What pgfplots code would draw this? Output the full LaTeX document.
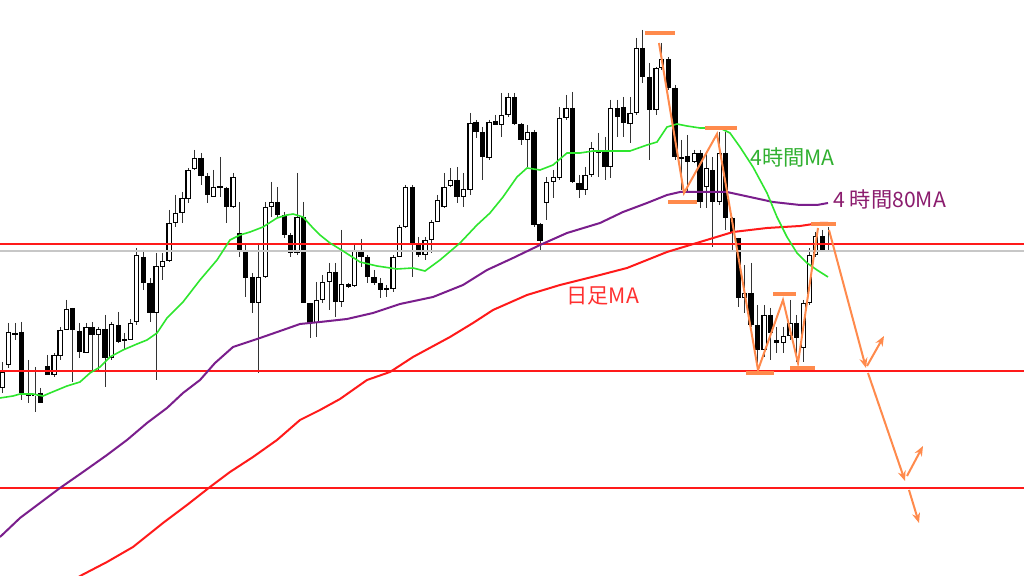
\documentclass[border=0pt]{standalone}
\usepackage{fontspec}
\setmainfont{Noto Sans CJK JP}
\usepackage{pgfplots}
\usepackage{pgfplotstable}
\pgfplotsset{compat=1.18}
\usetikzlibrary{arrows.meta}

\definecolor{maGreen}{HTML}{2EE62E}
\definecolor{maPurple}{HTML}{7A1E8C}
\definecolor{maRed}{HTML}{FF1A1A}
\definecolor{txtGreen}{HTML}{30B030}
\definecolor{txtPurple}{HTML}{8B1C6E}
\definecolor{txtRed}{HTML}{FF3030}
\definecolor{anno}{HTML}{FF8A4C}
\definecolor{wick}{HTML}{333333}

% candles in chart pixels: x, open, high, low, close (y grows downward)
\pgfplotstableread{
x o h l c
2.7 388 362 393 372
8.3 365 323 368 332
15 334 323 340 333
21.7 332 322 400 393
28.3 393 360 403 396
35 396 367 412 394
40.7 393 388 403 403
47.3 366 355 375 375
54 375 353 377 355
60 356 327 360 330
66.7 330 300 330 309
72.7 308 308 382 330
79.3 331 323 358 352
86 353 323 353 327
92 327 322 370 335
98.3 335 327 370 329
105 329 315 387 358
111.7 358 322 360 324
118.3 325 312 343 342
124.3 339 333 350 340
130.7 340 319 340 323
136.7 322 248 325 255
143.3 257 250 290 283
150 283 278 322 313
156 313 253 380 266
162.7 267 253 280 261
169 261 210 262 223
175.7 223 195 227 213
182 213 192 223 198
188 199 168 203 170
194.3 169 150 170 158
201 158 153 185 176
207.3 176 173 203 195
213.7 197 170 197 187
220 187 157 197 186
226.7 188 187 223 207
233 207 173 208 177
239.3 233 202 257 251
245.7 250 243 297 278
252.3 277 273 313 303
258.7 303 243 373 277
265.3 277 202 278 207
271.3 207 182 217 202
277.7 202 187 217 215
284.3 215 212 238 235
290.7 235 233 257 253
297 253 173 255 217
303.3 217 202 303 303
310 303 303 338 323
316.7 323 282 337 300
322.7 300 275 303 282
329.3 282 263 310 272
335.3 272 263 317 302
341.7 302 230 307 284
348.3 284 283 288 287
354.7 286 245 287 250
361 250 239 267 257
367.3 257 255 283 277
374 277 270 285 283
380.3 283 278 298 290
386.7 288 285 297 289
393 289 255 292 257
399.7 257 225 257 227
405.7 227 185 228 187
412.7 187 185 277 243
418.7 243 237 257 255
425 255 237 260 240
431.3 240 220 253 222
437.7 222 195 222 200
444 207 173 208 187
450.7 186 168 187 180
457 180 167 203 197
463.3 197 173 207 189
470 190 113 195 123
476 122 120 138 132
482.7 132 127 180 157
489 158 120 160 122
495.7 121 115 125 125
501.7 125 93 137 115
508 115 93 117 97
514.7 97 93 125 124
521 124 123 145 140
527.3 140 125 167 132
534 132 130 227 225
540 224 223 250 241
546.7 203 177 220 182
553.3 182 170 198 177
559.3 178 107 180 118
566 118 95 120 108
572.3 108 92 183 182
579 183 175 198 190
585 190 167 195 175
591.7 175 142 177 148
598.3 150 133 177 153
605 152 137 180 167
610.7 167 100 178 108
617.3 108 100 137 117
623.3 107 97 137 123
630 124 97 143 113
636.7 113 38 115 48
642.7 48 30 83 77
649.3 77 63 160 110
656 110 67 115 68
661.7 68 43 70 59
668.3 59 57 90 88
675 88 85 160 157
681.7 157 140 190 158
687.3 156 135 193 162
694.3 162 150 163 153
700 153 150 208 202
706.7 187 153 208 168
712.7 170 157 247 202
719.3 202 132 205 153
725.7 153 132 230 218
732.3 218 217 250 233
738.3 238 238 307 298
744.3 298 265 313 293
751 293 263 327 325
757.3 325 305 367 350
764 350 305 357 315
770.3 315 308 360 333
776.7 340 327 353 343
783.3 343 327 353 336
790 336 300 340 323
796.7 323 315 362 338
803.3 348 300 362 303
809.3 303 248 305 255
815.7 255 232 257 236
822.3 236 230 252 250
828.3 250 227 252 251
}\candles

\begin{document}
\begin{tikzpicture}[
    lab/.style={anchor=west, inner sep=0pt, font=\fontsize{10.6pt}{12pt}\selectfont},
]
\begin{axis}[
    width=512pt, height=288pt, scale only axis,
    xmin=0, xmax=1024, ymin=0, ymax=576,
    y dir=reverse,
    hide axis, clip=true,
    hline/.style={line width=0.55pt, forget plot},
    bar/.style={anno, line width=1.6pt, forget plot},
    arr/.style={anno, line width=1pt, forget plot, -{Stealth[length=5pt, width=4pt]}},
    candle/.style={draw=none, mark=none, forget plot,
        /pgfplots/error bars/y dir=plus,
        /pgfplots/error bars/y explicit,
        /pgfplots/error bars/error mark=none},
]
% white page
\addplot[fill=white, draw=none, forget plot] coordinates {(0,0) (1024,0) (1024,576) (0,576) (0,0)};

% wicks
\addplot[candle, /pgfplots/error bars/error bar style={draw=wick, line width=0.5pt}]
    table[x=x, y=h, y error plus expr={\thisrow{l}-\thisrow{h}}] {\candles};
% bodies (outline)
\addplot[candle, /pgfplots/error bars/error bar style={draw=black, line width=2.6pt}]
    table[x=x, y expr={min(\thisrow{o},\thisrow{c})},
          y error plus expr={max(abs(\thisrow{o}-\thisrow{c}),1.6)}] {\candles};
% hollow inside of rising candles
\addplot[candle, /pgfplots/error bars/error bar style={draw=white, line width=1.5pt}]
    table[x=x, y expr={\thisrow{c}+0.9},
          y error plus expr={max(\thisrow{o}-\thisrow{c}-1.8,0)}] {\candles};

% horizontal levels
\addplot[hline, draw=maRed] coordinates {(0,244) (1024,244)};
\addplot[hline, draw=black!22] coordinates {(0,251) (1024,251)};
\addplot[hline, draw=maRed] coordinates {(0,371) (1024,371)};
\addplot[hline, draw=maRed] coordinates {(0,488) (1024,488)};

% daily MA
\addplot[maRed, line width=1pt, forget plot] coordinates {
(70,582) (82,575) (107,562) (133,547) (163,523) (187,505) (210,487) (230,472)
(253,457) (277,440) (300,420) (320,410) (340,399) (367,380) (390,372) (413,357)
(450,337) (473,323) (493,310) (527,295) (560,285) (600,275) (627,268) (667,252)
(700,242) (733,232) (767,228) (800,226) (820,223) (828,223)};
% 4h 80MA
\addplot[maPurple, line width=1pt, forget plot] coordinates {
(0,537) (20,518) (40,503) (60,488) (83,472) (107,455) (127,440) (147,423)
(167,408) (183,393) (200,380) (215,363) (233,347) (260,338) (283,330) (300,324)
(320,322) (347,319) (373,313) (400,304) (433,297) (463,285) (487,270) (513,258)
(540,245) (567,233) (600,223) (623,212) (647,203) (667,195) (680,192) (700,192)
(727,192) (750,197) (773,202) (800,205) (817,205) (828,203)};
% 4h MA
\addplot[maGreen, line width=0.8pt, forget plot] coordinates {
(0,398) (13,396) (20,394) (33,394) (43,396) (50,393) (67,386) (80,382)
(90,373) (100,367) (110,357) (123,350) (137,344) (147,340) (157,333) (167,318)
(183,302) (200,280) (217,260) (230,240) (240,235) (250,232) (263,227) (277,218)
(287,215) (293,214) (303,217) (313,228) (320,235) (330,243) (343,251) (360,262)
(377,266) (397,269) (413,268) (425,271) (440,260) (460,243) (477,225) (490,213)
(503,197) (517,177) (527,168) (540,170) (553,165) (567,153) (580,153) (593,151)
(613,151) (630,151) (647,145) (657,142) (667,127) (677,124) (687,126) (700,128)
(720,128) (730,133) (740,147) (753,167) (767,193) (777,217) (787,237) (797,253)
(807,263) (817,270) (828,277)};

% swing highs and lows
\addplot[bar] coordinates {(645,33) (675,33)};
\addplot[bar] coordinates {(705,128) (737,128)};
\addplot[bar] coordinates {(668,202) (697,202)};
\addplot[bar] coordinates {(746,373) (774,373)};
\addplot[bar] coordinates {(773,294) (796,294)};
\addplot[bar] coordinates {(790,368) (815,368)};
\addplot[bar] coordinates {(811,224) (836,224)};
% wave path
\addplot[anno, line width=1pt, forget plot] coordinates {
(659,43) (684,193) (717,134) (758,370) (783,300) (798,363) (818,228)};
% projected moves
\addplot[arr] coordinates {(829,230) (866,368)};
\addplot[arr] coordinates {(867,366) (884,336)};
\addplot[arr] coordinates {(868,373) (905,481)};
\addplot[arr] coordinates {(907,476) (923,446)};
\addplot[arr] coordinates {(909,490) (919,523)};

% labels
\node[lab, text=txtGreen] at (axis cs:750,157) {4時間MA};
\node[lab, text=txtPurple] at (axis cs:833,199) {4 時間80MA};
\node[lab, text=txtRed] at (axis cs:566,296) {日足MA};
\end{axis}
\end{tikzpicture}
\end{document}
